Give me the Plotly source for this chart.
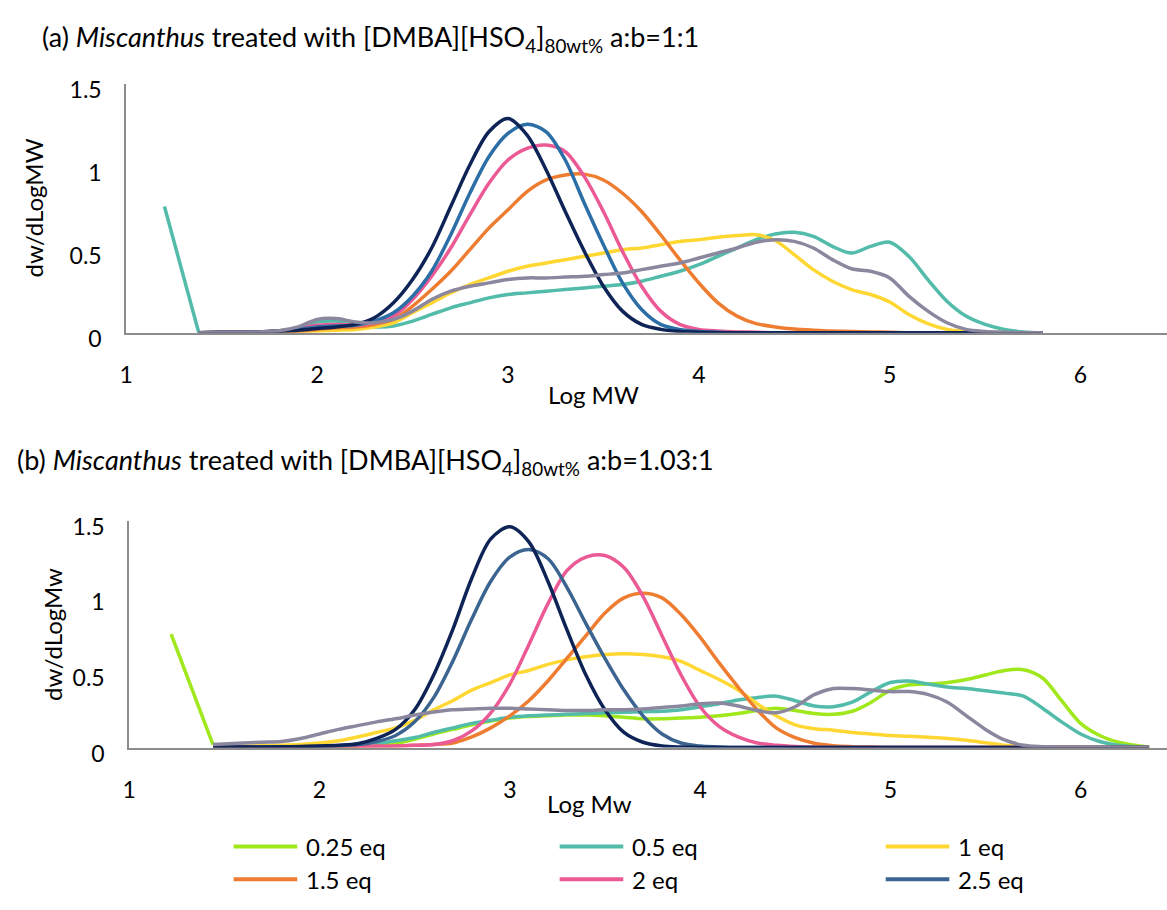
import plotly.graph_objects as go

# ---------------- Panel (a) data : a:b = 1:1 ----------------
LOGMW_A = [1.38, 1.5, 1.6, 1.7, 1.8, 1.9,
           2.0, 2.1, 2.2, 2.3, 2.4, 2.5, 2.6, 2.7, 2.8, 2.9,
           3.0, 3.1, 3.2, 3.3, 3.4, 3.5, 3.6, 3.7, 3.8, 3.9,
           4.0, 4.1, 4.2, 4.3, 4.4, 4.5, 4.6, 4.7, 4.8, 4.9,
           5.0, 5.1, 5.2, 5.3, 5.4, 5.5, 5.6, 5.7, 5.8]

# straight drop of the 0.5 eq trace at low Log MW
SPIKE_A_X = [1.2, 1.38]
SPIKE_A_Y = [0.76, 0.0]

A_05EQ = [0.0, 0.005, 0.005, 0.005, 0.01, 0.03,
          0.065, 0.07, 0.05, 0.035, 0.04, 0.07, 0.11, 0.15, 0.18, 0.21,
          0.23, 0.24, 0.25, 0.26, 0.27, 0.28, 0.29, 0.31, 0.34, 0.37,
          0.41, 0.46, 0.51, 0.56, 0.595, 0.605, 0.58, 0.52, 0.48, 0.52,
          0.545, 0.46, 0.32, 0.19, 0.10, 0.05, 0.02, 0.005, 0.0]
A_1EQ = [0.0, 0.003, 0.003, 0.003, 0.005, 0.008,
         0.01, 0.015, 0.02, 0.035, 0.06, 0.12, 0.18, 0.24, 0.29, 0.33,
         0.37, 0.40, 0.42, 0.44, 0.46, 0.48, 0.50, 0.51, 0.53, 0.55,
         0.56, 0.575, 0.585, 0.59, 0.555, 0.47, 0.38, 0.31, 0.26, 0.23,
         0.185, 0.11, 0.055, 0.02, 0.008, 0.003, 0.0, 0.0, 0.0]
A_15EQ = [0.0, 0.003, 0.003, 0.003, 0.005, 0.01,
          0.02, 0.03, 0.035, 0.05, 0.08, 0.16, 0.26, 0.37, 0.50, 0.63,
          0.74, 0.85, 0.92, 0.95, 0.955, 0.92, 0.84, 0.73, 0.59, 0.44,
          0.30, 0.18, 0.10, 0.055, 0.035, 0.022, 0.015, 0.01, 0.008, 0.005,
          0.003, 0.0, 0.0, 0.0, 0.0, 0.0, 0.0, 0.0, 0.0]
A_2EQ = [0.0, 0.003, 0.003, 0.005, 0.01, 0.025,
         0.045, 0.05, 0.045, 0.06, 0.10, 0.20, 0.34, 0.51, 0.71, 0.90,
         1.04, 1.11, 1.13, 1.09, 0.94, 0.73, 0.49, 0.28, 0.13, 0.05,
         0.02, 0.01, 0.005, 0.003, 0.0, 0.0, 0.0, 0.0, 0.0, 0.0,
         0.0, 0.0, 0.0, 0.0, 0.0, 0.0, 0.0, 0.0, 0.0]
A_25EQ = [0.0, 0.003, 0.003, 0.005, 0.01, 0.02,
          0.035, 0.04, 0.045, 0.07, 0.12, 0.22, 0.37, 0.59, 0.84, 1.06,
          1.20, 1.255, 1.21, 1.04, 0.78, 0.53, 0.30, 0.14, 0.05, 0.02,
          0.008, 0.003, 0.0, 0.0, 0.0, 0.0, 0.0, 0.0, 0.0, 0.0,
          0.0, 0.0, 0.0, 0.0, 0.0, 0.0, 0.0, 0.0, 0.0]
A_NAVY = [0.0, 0.003, 0.003, 0.005, 0.01, 0.015,
          0.025, 0.035, 0.05, 0.09, 0.18, 0.32, 0.51, 0.76, 1.01, 1.21,
          1.29, 1.19, 0.98, 0.73, 0.49, 0.28, 0.13, 0.05, 0.02, 0.008,
          0.003, 0.0, 0.0, 0.0, 0.0, 0.0, 0.0, 0.0, 0.0, 0.0,
          0.0, 0.0, 0.0, 0.0, 0.0, 0.0, 0.0, 0.0, 0.0]
A_GRAY = [0.0, 0.003, 0.003, 0.005, 0.012, 0.035,
          0.08, 0.085, 0.065, 0.06, 0.08, 0.13, 0.20, 0.25, 0.28, 0.30,
          0.32, 0.33, 0.33, 0.335, 0.34, 0.35, 0.36, 0.38, 0.40, 0.42,
          0.45, 0.48, 0.51, 0.545, 0.56, 0.55, 0.51, 0.44, 0.385, 0.37,
          0.33, 0.22, 0.13, 0.06, 0.02, 0.008, 0.003, 0.0, 0.0]

# ---------------- Panel (b) data : a:b = 1.03:1 ----------------
LOGMW_B = [1.44, 1.6, 1.7, 1.8, 1.9,
           2.0, 2.1, 2.2, 2.3, 2.4, 2.5, 2.6, 2.7, 2.8, 2.9,
           3.0, 3.1, 3.2, 3.3, 3.4, 3.5, 3.6, 3.7, 3.8, 3.9,
           4.0, 4.1, 4.2, 4.3, 4.4, 4.5, 4.6, 4.7, 4.8, 4.9,
           5.0, 5.1, 5.2, 5.3, 5.4, 5.5, 5.6, 5.7, 5.8, 5.9,
           6.0, 6.1, 6.2, 6.3, 6.36]

# straight drop of the 0.25 eq trace at low Log Mw
SPIKE_B_X = [1.22, 1.44]
SPIKE_B_Y = [0.75, 0.02]

B_025EQ = [0.02, 0.005, 0.005, 0.005, 0.005,
           0.005, 0.007, 0.01, 0.015, 0.025, 0.055, 0.09, 0.12, 0.15, 0.175,
           0.195, 0.205, 0.21, 0.215, 0.215, 0.21, 0.20, 0.19, 0.19, 0.195,
           0.20, 0.21, 0.225, 0.245, 0.26, 0.245, 0.225, 0.22, 0.24, 0.30,
           0.38, 0.415, 0.42, 0.43, 0.45, 0.48, 0.51, 0.515, 0.46, 0.31,
           0.16, 0.08, 0.035, 0.012, 0.003]
B_05EQ = [0.005, 0.005, 0.005, 0.005, 0.005,
          0.008, 0.01, 0.015, 0.025, 0.045, 0.066, 0.10, 0.13, 0.16, 0.18,
          0.20, 0.21, 0.215, 0.22, 0.225, 0.23, 0.233, 0.237, 0.24, 0.25,
          0.27, 0.29, 0.315, 0.33, 0.34, 0.31, 0.275, 0.27, 0.30, 0.37,
          0.43, 0.44, 0.42, 0.40, 0.39, 0.375, 0.36, 0.34, 0.26, 0.17,
          0.09, 0.04, 0.015, 0.005, 0.0]
B_1EQ = [0.01, 0.01, 0.012, 0.015, 0.02,
         0.03, 0.045, 0.07, 0.10, 0.13, 0.18, 0.25, 0.31, 0.38, 0.43,
         0.48, 0.51, 0.55, 0.58, 0.60, 0.615, 0.62, 0.615, 0.60, 0.57,
         0.51, 0.45, 0.38, 0.29, 0.21, 0.15, 0.125, 0.115, 0.10, 0.09,
         0.08, 0.075, 0.068, 0.06, 0.048, 0.032, 0.016, 0.006, 0.0, 0.0,
         0.0, 0.0, 0.0, 0.0, 0.0]
B_15EQ = [0.003, 0.003, 0.003, 0.003, 0.004,
          0.005, 0.005, 0.006, 0.008, 0.01, 0.015, 0.02, 0.03, 0.07, 0.13,
          0.21, 0.31, 0.44, 0.59, 0.74, 0.89, 0.99, 1.02, 0.99, 0.88,
          0.73, 0.56, 0.40, 0.25, 0.13, 0.065, 0.028, 0.012, 0.006, 0.003,
          0.0, 0.0, 0.0, 0.0, 0.0, 0.0, 0.0, 0.0, 0.0, 0.0,
          0.0, 0.0, 0.0, 0.0, 0.0]
B_2EQ = [0.003, 0.003, 0.003, 0.003, 0.004,
         0.005, 0.006, 0.007, 0.008, 0.01, 0.015, 0.02, 0.045, 0.11, 0.23,
         0.42, 0.68, 0.95, 1.17, 1.26, 1.27, 1.19, 1.00, 0.74, 0.48,
         0.27, 0.14, 0.07, 0.03, 0.015, 0.007, 0.003, 0.0, 0.0, 0.0,
         0.0, 0.0, 0.0, 0.0, 0.0, 0.0, 0.0, 0.0, 0.0, 0.0,
         0.0, 0.0, 0.0, 0.0, 0.0]
B_25EQ = [0.003, 0.003, 0.004, 0.005, 0.006,
          0.008, 0.012, 0.02, 0.04, 0.08, 0.17, 0.33, 0.57, 0.85, 1.10,
          1.26, 1.31, 1.25, 1.06, 0.82, 0.59, 0.38, 0.21, 0.09, 0.03,
          0.01, 0.004, 0.0, 0.0, 0.0, 0.0, 0.0, 0.0, 0.0, 0.0,
          0.0, 0.0, 0.0, 0.0, 0.0, 0.0, 0.0, 0.0, 0.0, 0.0,
          0.0, 0.0, 0.0, 0.0, 0.0]
B_NAVY = [0.003, 0.003, 0.004, 0.005, 0.007,
          0.01, 0.015, 0.025, 0.06, 0.12, 0.25, 0.48, 0.78, 1.12, 1.38,
          1.46, 1.36, 1.10, 0.78, 0.48, 0.25, 0.10, 0.035, 0.01, 0.003,
          0.0, 0.0, 0.0, 0.0, 0.0, 0.0, 0.0, 0.0, 0.0, 0.0,
          0.0, 0.0, 0.0, 0.0, 0.0, 0.0, 0.0, 0.0, 0.0, 0.0,
          0.0, 0.0, 0.0, 0.0, 0.0]
B_GRAY = [0.02, 0.03, 0.035, 0.04, 0.06,
          0.09, 0.12, 0.145, 0.17, 0.19, 0.215, 0.235, 0.25, 0.255, 0.26,
          0.26, 0.255, 0.25, 0.245, 0.245, 0.25, 0.25, 0.255, 0.265, 0.275,
          0.29, 0.295, 0.275, 0.245, 0.23, 0.27, 0.35, 0.39, 0.39, 0.38,
          0.37, 0.37, 0.35, 0.30, 0.21, 0.12, 0.05, 0.015, 0.005, 0.0,
          0.0, 0.0, 0.0, 0.0, 0.0]

LEGEND_NAMES = ["0.25 eq", "0.5 eq", "1 eq", "1.5 eq", "2 eq", "2.5 eq"]

C_LIME = "#A0E81C"
C_TEAL = "#52BBA9"
C_YELLOW = "#FFD733"
C_ORANGE = "#EF7D31"
C_PINK = "#EC5A96"
C_BLUE_A = "#2C6EA6"
C_BLUE_B = "#3B6491"
C_NAVY = "#0F2456"
C_GRAY = "#8B879E"

FONT = "Lato"
AXIS_GRAY = "#8C8C8C"
LW = 3.5

fig = go.Figure()


def add_line(x, y, color, name, xa, ya, shape="spline"):
    fig.add_trace(go.Scatter(
        x=x, y=y, mode="lines", name=name, showlegend=False,
        line=dict(color=color, width=LW, shape=shape, smoothing=0.9),
        xaxis=xa, yaxis=ya))


# panel (a)
add_line(SPIKE_A_X, SPIKE_A_Y, C_TEAL, "0.5 eq", "x", "y", shape="linear")
add_line(LOGMW_A, A_05EQ, C_TEAL, "0.5 eq", "x", "y")
add_line(LOGMW_A, A_1EQ, C_YELLOW, "1 eq", "x", "y")
add_line(LOGMW_A, A_15EQ, C_ORANGE, "1.5 eq", "x", "y")
add_line(LOGMW_A, A_2EQ, C_PINK, "2 eq", "x", "y")
add_line(LOGMW_A, A_25EQ, C_BLUE_A, "2.5 eq", "x", "y")
add_line(LOGMW_A, A_NAVY, C_NAVY, "series 7", "x", "y")
add_line(LOGMW_A, A_GRAY, C_GRAY, "series 8", "x", "y")

# panel (b)
add_line(SPIKE_B_X, SPIKE_B_Y, C_LIME, "0.25 eq", "x2", "y2", shape="linear")
add_line(LOGMW_B, B_025EQ, C_LIME, "0.25 eq", "x2", "y2")
add_line(LOGMW_B, B_05EQ, C_TEAL, "0.5 eq", "x2", "y2")
add_line(LOGMW_B, B_1EQ, C_YELLOW, "1 eq", "x2", "y2")
add_line(LOGMW_B, B_15EQ, C_ORANGE, "1.5 eq", "x2", "y2")
add_line(LOGMW_B, B_2EQ, C_PINK, "2 eq", "x2", "y2")
add_line(LOGMW_B, B_25EQ, C_BLUE_B, "2.5 eq", "x2", "y2")
add_line(LOGMW_B, B_NAVY, C_NAVY, "series 7", "x2", "y2")
add_line(LOGMW_B, B_GRAY, C_GRAY, "series 8", "x2", "y2")

W, H = 1167, 910


def px_x(p):
    return p / W


def px_y(p):
    return 1 - p / H


xaxis_common = dict(
    tickvals=[1, 2, 3, 4, 5, 6], ticktext=["1", "2", "3", "4", "5", "6"],
    showline=True, linecolor=AXIS_GRAY, linewidth=2, showgrid=False,
    zeroline=False, ticks="", ticklabelstandoff=21, layer="below traces",
    tickfont=dict(family=FONT, size=23, color="#000"))
yaxis_common = dict(
    range=[0, 1.5], tickvals=[0, 0.5, 1, 1.5], ticktext=["0", "0.5", "1", "1.5"],
    showline=True, linecolor=AXIS_GRAY, linewidth=2, showgrid=False,
    zeroline=False, ticks="", ticklabelstandoff=18, ticklabelshift=6,
    layer="below traces",
    tickfont=dict(family=FONT, size=23, color="#000"))

fig.update_layout(
    width=W, height=H, margin=dict(l=0, r=0, t=0, b=0),
    paper_bgcolor="white", plot_bgcolor="white",
    font=dict(family=FONT, size=23, color="#000"),
    showlegend=False,
    xaxis=dict(domain=[px_x(120), 1], range=[1, 6.453], anchor="y", **xaxis_common),
    yaxis=dict(domain=[px_y(334), px_y(77)], anchor="x", **yaxis_common),
    xaxis2=dict(domain=[px_x(123), 1], range=[1, 6.454], anchor="y2", **xaxis_common),
    yaxis2=dict(domain=[px_y(762), px_y(528)], anchor="x2", **yaxis_common),
)

TITLE_SIZE = 27
annotations = [
    dict(text="(a) <i>Miscanthus</i> treated with [DMBA][HSO<sub>4</sub>]<sub>80wt%</sub> a:b=1:1",
         x=px_x(33), y=px_y(30), xanchor="left", yanchor="middle",
         font=dict(family=FONT, size=TITLE_SIZE, color="#000")),
    dict(text="(b) <i>Miscanthus</i> treated with [DMBA][HSO<sub>4</sub>]<sub>80wt%</sub> a:b=1.03:1",
         x=px_x(8), y=px_y(467), xanchor="left", yanchor="middle",
         font=dict(family=FONT, size=TITLE_SIZE, color="#000")),
    dict(text="dw/dLogMW", textangle=-90, x=px_x(27), y=px_y(205),
         xanchor="center", yanchor="middle"),
    dict(text="Log MW", x=px_x(590), y=px_y(398), xanchor="center", yanchor="middle"),
    dict(text="dw/dLogMw", textangle=-90, x=px_x(45), y=px_y(645),
         xanchor="center", yanchor="middle"),
    dict(text="Log Mw", x=px_x(586), y=px_y(820), xanchor="center", yanchor="middle"),
]
for a in annotations:
    a.update(xref="paper", yref="paper", showarrow=False)
    a.setdefault("font", dict(family=FONT, size=24, color="#000"))

# legend (drawn as a 3-column grid like the original)
legend_colors = [C_LIME, C_TEAL, C_YELLOW, C_ORANGE, C_PINK, C_BLUE_B]
shapes = []
for i, (nm, col) in enumerate(zip(LEGEND_NAMES, legend_colors)):
    r, c = divmod(i, 3)
    yy = px_y(864 + r * 34)
    x0 = 228 + c * 328
    shapes.append(dict(type="line", xref="paper", yref="paper",
                       x0=px_x(x0), x1=px_x(x0 + 64), y0=yy, y1=yy,
                       line=dict(color=col, width=4)))
    annotations.append(dict(text=nm, x=px_x(x0 + 71), y=yy, xref="paper", yref="paper",
                            xanchor="left", yanchor="middle", showarrow=False,
                            font=dict(family=FONT, size=24, color="#000")))

fig.update_layout(annotations=annotations, shapes=shapes)

fig.write_html("out.html")
